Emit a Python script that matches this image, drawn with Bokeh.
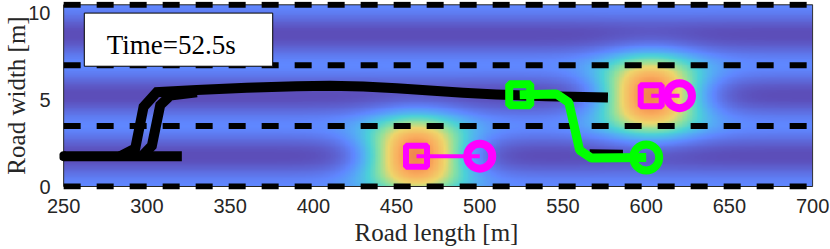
import numpy as np
from bokeh.plotting import figure
from bokeh.models import Range1d, BoxAnnotation, Label, LinearColorMapper, FixedTicker
from bokeh.embed import file_html
from bokeh.resources import INLINE

# ---------------- data ----------------
x_ticks = [250, 300, 350, 400, 450, 500, 550, 600, 650, 700]
y_ticks = [0, 5, 10]
road_x = [250, 700]
lane_lines = [0, 3.5, 7, 10.5]
lane_width = 3.5

# obstacle vehicles (magenta): square = current, circle = predicted
obs_sq_x = [462, 603]
obs_sq_y = [1.75, 5.25]
obs_ci_x = [500, 620]
obs_ci_y = [1.75, 5.25]
obs_peak = [1.0, 1.0]
obs_sigma_x = [30, 30]
obs_sigma_y = [2.0, 2.0]

# ego planned path (green)
ego_x = [524, 546, 553.5, 560, 567, 600]
ego_y = [5.3, 5.35, 4.85, 2.1, 1.65, 1.68]

# black trajectory histories
hist1_x = [250, 321]
hist1_y = [1.75, 1.75]
hist2_x = [284, 293, 298, 306, 330, 360, 390, 410, 430, 450, 470, 490, 510, 540, 577]
hist2_y = [1.75, 2.2, 4.6, 5.45, 5.58, 5.7, 5.8, 5.82, 5.78, 5.68, 5.55, 5.42, 5.32, 5.22, 5.15]
hist3_x = [297, 303, 308, 314, 330]
hist3_y = [1.75, 2.35, 4.7, 5.25, 5.45]
hist4_x = [566, 586]
hist4_y = [1.86, 1.84]

time_text = "Time=52.5s"
x_label = "Road length [m]"
y_label = "Road width [m]"

# ---------------- colour field ----------------
gx = np.linspace(road_x[0], road_x[1], 451)
gy = np.linspace(lane_lines[0], lane_lines[-1], 211)
GX, GY = np.meshgrid(gx, gy)
field = 0.2 * 0.5 * (1 + np.cos(2 * np.pi * GY / lane_width))
for ox, oy, a, sx, sy in zip(obs_sq_x, obs_sq_y, obs_peak, obs_sigma_x, obs_sigma_y):
    field = field + a * np.exp(-((GX - ox) / sx) ** 2 - ((GY - oy) / sy) ** 2)

anchors = [(0.0, (92, 78, 185)), (0.2, (95, 135, 255)), (0.31, (85, 172, 245)),
           (0.43, (75, 210, 215)), (0.57, (140, 225, 160)), (0.72, (238, 215, 108)),
           (0.87, (250, 175, 95)), (1.0, (240, 135, 78))]
palette = []
for t in np.linspace(0, 1, 256):
    for (t0, c0), (t1, c1) in zip(anchors[:-1], anchors[1:]):
        if t0 <= t <= t1:
            f = (t - t0) / (t1 - t0)
            c = [int(round(c0[k] + f * (c1[k] - c0[k]))) for k in range(3)]
            palette.append("#%02x%02x%02x" % tuple(c))
            break
mapper = LinearColorMapper(palette=palette, low=0, high=1)

# ---------------- figure ----------------
p = figure(width=830, height=249, output_backend="svg", toolbar_location=None,
           x_range=Range1d(247.5, 700.5), y_range=Range1d(-0.173, 10.69),
           min_border_left=58, min_border_right=18, min_border_top=1, min_border_bottom=60)
p.frame_width = 754
p.frame_height = 188
p.outline_line_color = None
p.grid.visible = False

p.image(image=[field], x=road_x[0], y=lane_lines[0], dw=road_x[1] - road_x[0],
        dh=lane_lines[-1] - lane_lines[0], color_mapper=mapper)

# frame box
ax_col = "#262626"
p.line(x=[road_x[0], road_x[0]], y=[lane_lines[0], lane_lines[-1]], line_color=ax_col, line_width=1)
p.line(x=[road_x[1], road_x[1]], y=[lane_lines[0], lane_lines[-1]], line_color=ax_col, line_width=1)
p.line(x=road_x, y=[lane_lines[0], lane_lines[0]], line_color=ax_col, line_width=1)
p.line(x=road_x, y=[lane_lines[-1], lane_lines[-1]], line_color=ax_col, line_width=1)

for ly in lane_lines:
    p.line(x=road_x, y=[ly, ly], line_color="black", line_width=6, line_dash="17 16")

for hx, hy in [(hist1_x, hist1_y), (hist2_x, hist2_y), (hist3_x, hist3_y), (hist4_x, hist4_y)]:
    p.line(x=hx, y=hy, line_color="black", line_width=10, line_join="miter")
p.scatter(x=hist1_x[:1], y=hist1_y[:1], marker="circle", size=10, fill_color="black", line_color=None)

# ego
p.line(x=ego_x, y=ego_y, line_color="#00ff00", line_width=9)
p.scatter(x=ego_x[:1], y=ego_y[:1], marker="square", size=21, fill_color=None,
          line_color="#00ff00", line_width=8)
p.scatter(x=ego_x[-1:], y=ego_y[-1:], marker="circle", size=26, fill_color=None,
          line_color="#00ff00", line_width=8)

# obstacles
for sx_, sy_, cx_, cy_ in zip(obs_sq_x, obs_sq_y, obs_ci_x, obs_ci_y):
    p.line(x=[sx_, cx_], y=[sy_, cy_], line_color="#ff00ff", line_width=4)
p.scatter(x=obs_sq_x, y=obs_sq_y, marker="square", size=21, fill_color=None,
          line_color="#ff00ff", line_width=6)
p.scatter(x=obs_ci_x, y=obs_ci_y, marker="circle", size=25, fill_color=None,
          line_color="#ff00ff", line_width=8)

# time box
p.add_layout(BoxAnnotation(left=262.4, right=375.6, bottom=6.95, top=10.02,
                           fill_color="white", fill_alpha=1, line_color="black",
                           line_width=1, line_alpha=1))
p.add_layout(Label(x=314.6, y=8.19, text=time_text, text_align="center",
                   text_baseline="alphabetic", text_font="Liberation Serif",
                   text_font_size="27px", text_color="black"))

# axes
for ax in (p.xaxis[0], p.yaxis[0]):
    ax.axis_line_color = None
    ax.major_tick_line_color = None
    ax.minor_tick_line_color = None
    ax.major_label_text_font = "Liberation Sans"
    ax.major_label_text_font_size = "20px"
    ax.major_label_text_color = ax_col
    ax.axis_label_text_font = "Liberation Serif"
    ax.axis_label_text_font_size = "25px"
    ax.axis_label_text_font_style = "normal"
    ax.axis_label_text_color = ax_col
p.xaxis.ticker = FixedTicker(ticks=x_ticks)
p.yaxis.ticker = FixedTicker(ticks=y_ticks)
p.xaxis.axis_label = x_label
p.yaxis.axis_label = y_label
p.xaxis.major_label_standoff = 3
p.xaxis.axis_label_standoff = 3
p.yaxis.major_label_standoff = 3
p.yaxis.axis_label_standoff = -5

open("out.html", "w").write(file_html(p, INLINE))
